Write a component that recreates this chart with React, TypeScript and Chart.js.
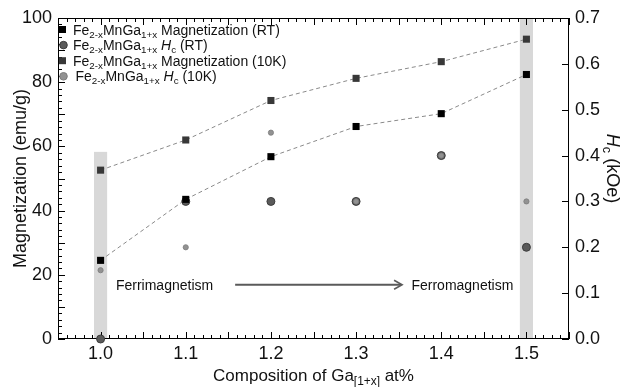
import React, { useEffect, useRef } from 'react';
import { Chart, registerables } from 'chart.js';

Chart.register(...registerables);

// ---- data ----
const compositions = [1.0, 1.1, 1.2, 1.3, 1.4, 1.5];
const magRT = [24.5, 43.5, 56.8, 66.2, 70.2, 82.4];
const mag10K = [52.6, 62.0, 74.3, 81.2, 86.4, 93.4];
const hcRT = [0.0, 0.3, 0.3, 0.3, 0.4, 0.2];
const hc10K = [0.15, 0.2, 0.45, 0.3, 0.4, 0.3];

const xTickValues = [1.0, 1.1, 1.2, 1.3, 1.4, 1.5];
const magTickValues = [0, 20, 40, 60, 80, 100];
const hcTickValues = [0, 0.1, 0.2, 0.3, 0.4, 0.5, 0.6, 0.7];

// highlighted composition bands (x centre, top in emu/g)
const bandCenters = [1.0, 1.5];
const bandTops = [58.3, 100];

const FONT = '"Liberation Sans", Arial, Helvetica, sans-serif';

type Seg = { t: string; sub?: boolean; it?: boolean };

function segFont(s: Seg, size: number) {
  const sz = s.sub ? size * 0.7 : size;
  return `${s.it ? 'italic ' : ''}${sz}px ${FONT}`;
}

function drawRich(ctx: CanvasRenderingContext2D, segs: Seg[], x: number, y: number, size: number, align: 'left' | 'center') {
  const widths = segs.map((s) => {
    ctx.font = segFont(s, size);
    return ctx.measureText(s.t).width;
  });
  const total = widths.reduce((a, b) => a + b, 0);
  let cx = align === 'center' ? x - total / 2 : x;
  ctx.textAlign = 'left';
  ctx.textBaseline = 'alphabetic';
  segs.forEach((s, i) => {
    ctx.font = segFont(s, size);
    ctx.fillText(s.t, cx, s.sub ? y + size * 0.22 : y);
    cx += widths[i];
  });
}

const compound: Seg[] = [{ t: 'Fe' }, { t: '2-x', sub: true }, { t: 'MnGa' }, { t: '1+x', sub: true }];
const legendItems: { segs: Seg[]; shape: 'rect' | 'circle'; fill: string; stroke: string }[] = [
  { segs: [...compound, { t: ' Magnetization (RT)' }], shape: 'rect', fill: '#000000', stroke: '#000000' },
  { segs: [...compound, { t: ' ' }, { t: 'H', it: true }, { t: 'c', sub: true }, { t: ' (RT)' }], shape: 'circle', fill: '#5a5a5a', stroke: '#3c3c3c' },
  { segs: [...compound, { t: ' Magnetization (10K)' }], shape: 'rect', fill: '#383838', stroke: '#383838' },
  { segs: [...compound, { t: ' ' }, { t: 'H', it: true }, { t: 'c', sub: true }, { t: ' (10K)' }], shape: 'circle', fill: '#929292', stroke: '#7c7c7c' },
];

const decorPlugin = {
  id: 'decor',
  beforeDatasetsDraw(chart: any) {
    const ctx: CanvasRenderingContext2D = chart.ctx;
    const { left, right, top, bottom } = chart.chartArea;
    const xs = chart.scales.x;
    const ys = chart.scales.y;
    const y1 = chart.scales.y1;
    ctx.save();
    // bands
    ctx.fillStyle = '#d8d8d8';
    bandCenters.forEach((c, i) => {
      const xa = xs.getPixelForValue(c - 0.0077);
      const xb = xs.getPixelForValue(c + 0.0077);
      const yt = ys.getPixelForValue(bandTops[i]);
      ctx.fillRect(xa, yt, xb - xa, bottom - yt);
    });
    // frame
    ctx.strokeStyle = '#000';
    ctx.lineWidth = 1;
    ctx.strokeRect(Math.round(left) + 0.5, Math.round(top) + 0.5, Math.round(right - left) - 1, Math.round(bottom - top) - 1);
    ctx.beginPath();
    // x ticks (bottom & top)
    for (let k = 95; k <= 155; k++) {
      const v = k / 100;
      const px = Math.round(xs.getPixelForValue(v)) + 0.5;
      const len = k % 5 === 0 ? 7 : 4;
      ctx.moveTo(px, bottom);
      ctx.lineTo(px, bottom - len);
      ctx.moveTo(px, top);
      ctx.lineTo(px, top + len);
    }
    // left ticks
    for (let v = 0; v <= 100; v += 2) {
      const py = Math.round(ys.getPixelForValue(v)) + 0.5;
      const len = v % 10 === 0 ? 7 : 4;
      ctx.moveTo(left, py);
      ctx.lineTo(left + len, py);
    }
    // right ticks
    hcTickValues.forEach((v) => {
      const py = Math.round(y1.getPixelForValue(v)) + 0.5;
      ctx.moveTo(right, py);
      ctx.lineTo(right - 7, py);
    });
    ctx.stroke();

    // arrow + phase labels
    const ay = ys.getPixelForValue(16.9);
    const ax0 = xs.getPixelForValue(1.158);
    const ax1 = xs.getPixelForValue(1.354);
    ctx.strokeStyle = '#5a5a5a';
    ctx.lineWidth = 2;
    ctx.beginPath();
    ctx.moveTo(ax0, ay);
    ctx.lineTo(ax1 - 1, ay);
    ctx.stroke();
    ctx.lineWidth = 1.6;
    ctx.beginPath();
    ctx.moveTo(ax1 - 8, ay - 4.5);
    ctx.lineTo(ax1, ay);
    ctx.lineTo(ax1 - 8, ay + 4.5);
    ctx.stroke();
    ctx.fillStyle = '#111';
    ctx.font = `14px ${FONT}`;
    ctx.textAlign = 'left';
    ctx.textBaseline = 'middle';
    ctx.fillText('Ferrimagnetism', xs.getPixelForValue(1.018), ys.getPixelForValue(16.5));
    ctx.fillText('Ferromagnetism', xs.getPixelForValue(1.365), ys.getPixelForValue(16.5));
    ctx.restore();
  },
  afterDraw(chart: any) {
    const ctx: CanvasRenderingContext2D = chart.ctx;
    const { left, right, top, bottom } = chart.chartArea;
    ctx.save();
    ctx.fillStyle = '#111';
    // legend
    legendItems.forEach((it, i) => {
      const cy = 29.5 + i * 15.6;
      ctx.fillStyle = it.fill;
      ctx.strokeStyle = it.stroke;
      ctx.lineWidth = 1;
      if (it.shape === 'rect') {
        ctx.fillRect(59, cy - 3.5, 7, 7);
      } else {
        ctx.beginPath();
        ctx.arc(63.5, cy, 3.8, 0, Math.PI * 2);
        ctx.fill();
        ctx.stroke();
      }
      ctx.fillStyle = '#111';
      drawRich(ctx, it.segs, i === 3 ? 75.5 : 73, cy + 5, 14, 'left');
    });
    // x title
    drawRich(ctx, [{ t: 'Composition of Ga' }, { t: '[1+x]', sub: true }, { t: ' at%' }], (left + right) / 2, 381, 17, 'center');
    // left title
    ctx.save();
    ctx.translate(19, (top + bottom) / 2);
    ctx.rotate(-Math.PI / 2);
    drawRich(ctx, [{ t: 'Magnetization (emu/g)' }], 0, 6.5, 18, 'center');
    ctx.restore();
    // right title
    ctx.save();
    ctx.translate(613, (top + bottom) / 2 - 10);
    ctx.rotate(Math.PI / 2);
    drawRich(ctx, [{ t: 'H', it: true }, { t: 'c', sub: true }, { t: ' (kOe)' }], 0, 6.5, 18, 'center');
    ctx.restore();
    ctx.restore();
  },
};

export default function App() {
  const ref = useRef<HTMLCanvasElement | null>(null);
  useEffect(() => {
    if (!ref.current) return;
    const pts = (ys: number[]) => compositions.map((c, i) => ({ x: c, y: ys[i] }));
    const chart = new Chart(ref.current, {
      type: 'line',
      data: {
        datasets: [
          {
            label: 'Fe2-xMnGa1+x Magnetization (RT)',
            data: pts(magRT),
            yAxisID: 'y',
            borderColor: '#8a8a8a',
            borderWidth: 1,
            borderDash: [4, 3],
            pointStyle: 'rect',
            pointRadius: 5,
            pointBackgroundColor: '#000',
            pointBorderColor: '#000',
            pointBorderWidth: 0,
            tension: 0,
            clip: false,
            order: 2,
          },
          {
            label: 'Fe2-xMnGa1+x Hc (RT)',
            data: pts(hcRT),
            yAxisID: 'y1',
            showLine: false,
            pointStyle: 'circle',
            pointRadius: 4,
            pointBackgroundColor: '#5a5a5a',
            pointBorderColor: '#3c3c3c',
            pointBorderWidth: 1,
            clip: false,
            order: 3,
          },
          {
            label: 'Fe2-xMnGa1+x Magnetization (10K)',
            data: pts(mag10K),
            yAxisID: 'y',
            borderColor: '#8a8a8a',
            borderWidth: 1,
            borderDash: [4, 3],
            pointStyle: 'rect',
            pointRadius: 5,
            pointBackgroundColor: '#383838',
            pointBorderColor: '#383838',
            pointBorderWidth: 0,
            tension: 0,
            clip: false,
            order: 4,
          },
          {
            label: 'Fe2-xMnGa1+x Hc (10K)',
            data: pts(hc10K),
            yAxisID: 'y1',
            showLine: false,
            pointStyle: 'circle',
            pointRadius: 2.6,
            pointBackgroundColor: '#929292',
            pointBorderColor: '#7c7c7c',
            pointBorderWidth: 0.8,
            clip: false,
            order: 1,
          },
        ],
      },
      options: {
        responsive: false,
        animation: false,
        layout: { padding: { top: 18, left: 0, right: 0, bottom: 0 } },
        plugins: { legend: { display: false }, tooltip: { enabled: false } },
        scales: {
          x: {
            type: 'linear',
            min: 0.95,
            max: 1.55,
            border: { display: false },
            grid: { display: false, drawTicks: false },
            afterFit: (s: any) => { s.height = 48; },
            afterBuildTicks: (s: any) => { s.ticks = xTickValues.map((v) => ({ value: v })); },
            ticks: {
              padding: 4,
              color: '#111',
              font: { family: FONT, size: 18 },
              callback: (v: any) => Number(v).toFixed(1),
              maxRotation: 0,
              autoSkip: false,
            },
          },
          y: {
            type: 'linear',
            position: 'left',
            min: 0,
            max: 100,
            border: { display: false },
            grid: { display: false, drawTicks: false },
            afterFit: (s: any) => { s.width = 58; },
            afterBuildTicks: (s: any) => { s.ticks = magTickValues.map((v) => ({ value: v })); },
            ticks: { padding: 6, color: '#111', font: { family: FONT, size: 18 } },
          },
          y1: {
            type: 'linear',
            position: 'right',
            min: 0,
            max: 0.7,
            border: { display: false },
            grid: { display: false, drawTicks: false },
            afterFit: (s: any) => { s.width = 63; },
            afterBuildTicks: (s: any) => { s.ticks = hcTickValues.map((v) => ({ value: v })); },
            ticks: {
              padding: 6,
              color: '#111',
              font: { family: FONT, size: 18 },
              callback: (v: any) => Number(v).toFixed(1),
            },
          },
        },
      },
      plugins: [decorPlugin],
    } as any);
    return () => chart.destroy();
  }, []);
  return (
    <div style={{ position: 'absolute', left: 0, top: 0, width: 632, height: 387 }}>
      <canvas ref={ref} width={632} height={387} style={{ display: 'block' }} />
    </div>
  );
}
